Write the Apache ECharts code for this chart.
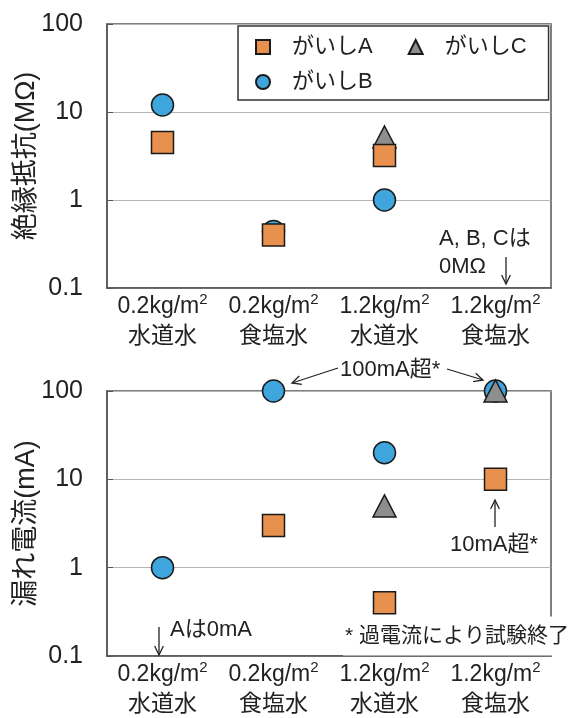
<!DOCTYPE html>
<html><head><meta charset="utf-8">
<script src="https://cdn.jsdelivr.net/npm/echarts@6/dist/echarts.min.js"></script>
<style>html,body{margin:0;padding:0;background:#fff}#c{width:569px;height:718px}</style>
</head><body><div id="c"></div>
<script>
// ---- data ----
const categories = ['0.2kg/m²\n水道水', '0.2kg/m²\n食塩水', '1.2kg/m²\n水道水', '1.2kg/m²\n食塩水'];
const seriesNames = ['がいしA', 'がいしB', 'がいしC'];
// insulation resistance (MΩ)
const resistA = [4.5, 0.4, 3.2, null];
const resistB = [12, 0.44, 1.0, null];
const resistC = [null, null, 5.2, null];
// leakage current (mA)
const leakA = [null, 3.0, 0.4, 10];
const leakB = [1, 100, 20, 100];
const leakC = [null, null, 5, 100];
const yTicks = ['0.1', '1', '10', '100'];

const FONT = '"Liberation Sans", "Noto Sans CJK JP", sans-serif';
const TXT = '#222';
const colors = { 'がいしA': '#E8914F', 'がいしB': '#3FA6DD', 'がいしC': '#8E8E8E' };
const symbols = { 'がいしA': 'rect', 'がいしB': 'circle', 'がいしC': 'triangle' };
const sizes = { 'がいしA': 22, 'がいしB': 22, 'がいしC': [23, 22] };

const chart = echarts.init(document.getElementById('c'), null, { renderer: 'canvas' });

function mkSeries(name, data, idx) {
  return {
    type: 'scatter', name, data, xAxisIndex: idx, yAxisIndex: idx,
    symbol: symbols[name], symbolSize: sizes[name], clip: false,
    itemStyle: { color: colors[name], borderColor: '#1a1a1a', borderWidth: 1.5, opacity: 1 },
    emphasis: { disabled: true }
  };
}
const order = [['がいしB', resistB, leakB], ['がいしC', resistC, leakC], ['がいしA', resistA, leakA]];
const series = [];
order.forEach(o => series.push(mkSeries(o[0], o[1], 0)));
order.forEach(o => series.push(mkSeries(o[0], o[2], 1)));

function xAx(idx) {
  return {
    type: 'category', gridIndex: idx, data: categories, boundaryGap: true,
    axisLine: { show: true, lineStyle: { color: '#555', width: 1.5 } },
    axisTick: { show: false },
    axisLabel: {
      fontSize: 23, fontFamily: FONT, color: TXT, lineHeight: 30, margin: 4, interval: 0,
      formatter: v => v.replace('²', '{sup|2}'),
      rich: { sup: { fontSize: 15, fontFamily: FONT, color: TXT, lineHeight: 22, verticalAlign: 'top' } }
    }
  };
}
function yAx(idx, name) {
  return {
    type: 'log', logBase: 10, min: 0.1, max: 100, gridIndex: idx,
    name, nameLocation: 'middle', nameRotate: 90, nameGap: 67, nameMoveOverlap: false,
    nameTextStyle: { fontSize: 27, fontFamily: FONT, color: TXT },
    axisLine: { show: true, lineStyle: { color: '#555', width: 1.5 } },
    axisTick: { show: true, inside: true, length: 6, lineStyle: { color: '#555' } },
    minorTick: { show: false },
    splitLine: { show: true, lineStyle: { color: '#b5b5b5', width: 1 } },
    axisLabel: {
      fontSize: 25, fontFamily: FONT, color: TXT, margin: 24,
      formatter: v => { const s = String(+(+v).toPrecision(3)); return yTicks.includes(s) ? s : ''; }
    }
  };
}

function arrow(x1, y1, x2, y2) {
  const ang = Math.atan2(y2 - y1, x2 - x1);
  const L = 10, a = 0.45;
  const p1 = [x2 - L * Math.cos(ang - a), y2 - L * Math.sin(ang - a)];
  const p2 = [x2 - L * Math.cos(ang + a), y2 - L * Math.sin(ang + a)];
  const st = { stroke: '#222', lineWidth: 1.3, fill: null };
  return [
    { type: 'line', z: 100, silent: true, shape: { x1, y1, x2, y2 }, style: st },
    { type: 'polyline', z: 100, silent: true, shape: { points: [p1, [x2, y2], p2] }, style: st }
  ];
}
function label(text, x, y, opts) {
  return {
    type: 'text', z: 100, silent: true, x, y,
    style: Object.assign({ text, fill: TXT, font: '22px ' + FONT, verticalAlign: 'middle', align: 'left' }, opts || {})
  };
}

const graphics = [
  label('A, B, Cは', 439, 239),
  label('0MΩ', 439, 267),
  ...arrow(506, 257, 506, 284),
  label('100mA超*', 340, 370),
  ...arrow(338, 368, 292, 383),
  ...arrow(447, 369, 483, 380),
  label('10mA超*', 450, 545),
  ...arrow(495, 527, 495, 500),
  label('Aは0mA', 170, 630),
  ...arrow(159, 627, 159, 655),
  label('* 過電流により試験終了', 343, 636, { font: '21px ' + FONT, backgroundColor: '#fff', padding: [9, 2, 9, 2] })
];

chart.setOption({
  animation: false,
  backgroundColor: '#fff',
  grid: [
    { left: 107, right: 18, top: 24, height: 264, show: true, borderColor: '#555', borderWidth: 1.5, containLabel: false, outerBoundsMode: 'none' },
    { left: 107, right: 18, top: 391, height: 265, show: true, borderColor: '#555', borderWidth: 1.5, containLabel: false, outerBoundsMode: 'none' }
  ],
  xAxis: [xAx(0), xAx(1)],
  yAxis: [yAx(0, '絶縁抵抗(MΩ)'), yAx(1, '漏れ電流(mA)')],
  legend: {
    data: ['がいしA', 'がいしC', 'がいしB'],
    orient: 'horizontal', left: 238, top: 26, width: 300,
    padding: [10, 0, 7, 17],
    itemGap: 13, itemWidth: 14, itemHeight: 14,
    backgroundColor: '#fff', borderColor: '#333', borderWidth: 1.5,
    selectedMode: false,
    textStyle: { fontSize: 22, fontFamily: FONT, color: TXT, lineHeight: 22, padding: [0, 22, 0, 17] }
  },
  series,
  graphic: graphics
});
</script>
</body></html>
